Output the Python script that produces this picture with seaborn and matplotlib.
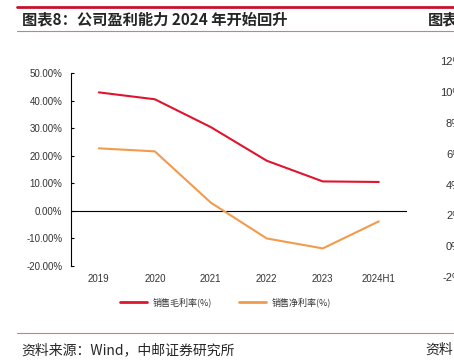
import pandas as pd
import matplotlib.pyplot as plt
import matplotlib.lines as mlines
import seaborn as sns

# values
years = ['2019', '2020', '2021', '2022', '2023', '2024H1']
gross_margin = [43.0, 40.5, 30.4, 18.2, 10.7, 10.5]
net_margin = [22.7, 21.6, 3.0, -10.0, -13.6, -3.8]
series_names = ['销售毛利率(%)', '销售净利率(%)']
series_colors = ['#E0142E', '#F39B4C']
y_ticks = [-20, -10, 0, 10, 20, 30, 40, 50]
right_ticks = [-2, 0, 2, 4, 6, 8, 10, 12]

df = pd.DataFrame({'year': years * 2,
                   'value': gross_margin + net_margin,
                   'series': [series_names[0]] * len(years) + [series_names[1]] * len(years)})

sns.set_style('white')
plt.rcParams['font.family'] = ['Noto Sans CJK SC', 'DejaVu Sans']

fig = plt.figure(figsize=(4.54, 3.6), dpi=100)
ax = fig.add_axes([0.156, 0.261, 0.740, 0.536])

sns.lineplot(data=df, x='year', y='value', hue='series', palette=series_colors,
             linewidth=1.5, ax=ax, legend=False, sort=False)

ax.set_xlim(-0.5, len(years) - 0.5)
ax.set_ylim(-20, 50)
ax.set_yticks(y_ticks)
ax.set_yticklabels(['%.2f%%' % v for v in y_ticks], family=['Liberation Sans'])
ax.set_xticks(range(len(years)))
ax.set_xticklabels(years, family=['Liberation Sans'])
ax.axhline(0, color='black', linewidth=0.8, zorder=1)
ax.set_xlabel('')
ax.set_ylabel('')
for s in ['top', 'right', 'bottom']:
    ax.spines[s].set_visible(False)
ax.spines['left'].set_color('black')
ax.spines['left'].set_linewidth(0.8)
ax.tick_params(axis='y', direction='in', length=2.5, width=0.8, labelsize=7,
               labelcolor='#333333', color='black', pad=6, left=True)
ax.tick_params(axis='x', length=0, labelsize=7, labelcolor='#333333', pad=6)

handles = [mlines.Line2D([], [], color=c, linewidth=2) for c in series_colors]
ax.legend(handles, series_names, loc='upper center', bbox_to_anchor=(0.46, -0.12),
          ncol=2, frameon=False, fontsize=6.5, handlelength=3, columnspacing=3,
          handletextpad=0.6, labelcolor='#333333')

# cut-off neighbouring chart's axis labels at right edge
ax2 = fig.add_axes([1.03, 0.23, 0.3, 0.60])
ax2.set_ylim(-2, 12)
ax2.set_yticks(right_ticks)
ax2.set_yticklabels(['%d%%' % v for v in right_ticks], family=['Liberation Sans'])
ax2.tick_params(axis='y', length=0, labelsize=8, labelcolor='#333333', pad=4)
ax2.set_xticks([])
for s in ax2.spines.values():
    s.set_visible(False)

# page decoration: title, rules, source
fig.add_artist(mlines.Line2D([0.037, 1.0], [0.981, 0.981], color='#C8102E', linewidth=2))
fig.add_artist(mlines.Line2D([0.037, 1.0], [0.914, 0.914], color='#D9787F', linewidth=0.8))
fig.add_artist(mlines.Line2D([0.037, 1.0], [0.075, 0.075], color='#D9787F', linewidth=0.8))
fig.text(0.048, 0.947, '图表8：公司盈利能力 2024 年开始回升', fontsize=11,
         fontweight='bold', va='center', ha='left')
fig.text(0.943, 0.947, '图表', fontsize=11, fontweight='bold', va='center', ha='left')
fig.text(0.048, 0.028, '资料来源：Wind，中邮证券研究所', fontsize=10, va='center', ha='left')
fig.text(0.937, 0.028, '资料', fontsize=10, va='center', ha='left')

plt.savefig('out.png', dpi=100)
plt.close()
